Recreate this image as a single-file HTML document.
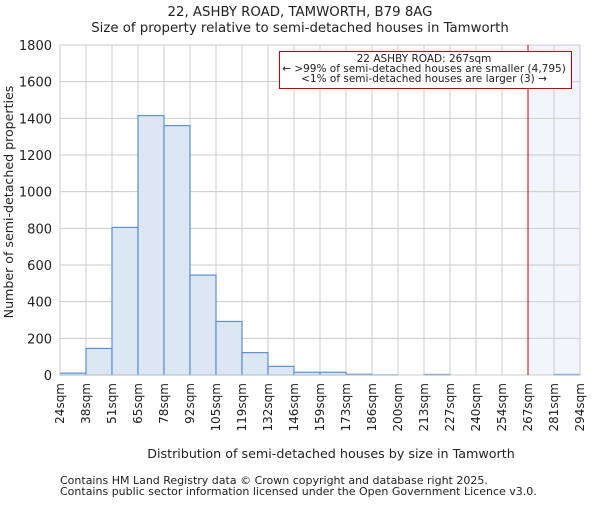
<!DOCTYPE html>
<html><head><meta charset="utf-8"><style>
body{margin:0;background:#fff}
svg text{font-family:"DejaVu Sans","Liberation Sans",sans-serif;fill:#222}
</style></head><body>
<svg width="600" height="500">
<text x="300" y="16" text-anchor="middle" font-size="13.3">22, ASHBY ROAD, TAMWORTH, B79 8AG</text>
<text x="300" y="32" text-anchor="middle" font-size="13.3">Size of property relative to semi-detached houses in Tamworth</text>
<g id="plot"></g>
<text transform="translate(13,202) rotate(-90)" text-anchor="middle" font-size="12.6">Number of semi-detached properties</text>
<text x="331" y="458" text-anchor="middle" font-size="12.7">Distribution of semi-detached houses by size in Tamworth</text>
<text x="60" y="484" font-size="11" fill="#444">Contains HM Land Registry data © Crown copyright and database right 2025.</text>
<text x="60" y="495" font-size="11" fill="#444">Contains public sector information licensed under the Open Government Licence v3.0.</text>
</svg>
<script>
const binLabels=["24sqm","38sqm","51sqm","65sqm","78sqm","92sqm","105sqm","119sqm","132sqm","146sqm","159sqm","173sqm","186sqm","200sqm","213sqm","227sqm","240sqm","254sqm","267sqm","281sqm","294sqm"];
const counts=[10,145,805,1415,1360,545,292,122,47,15,15,4,1,0,3,0,0,0,0,3];
const yTicks=[0,200,400,600,800,1000,1200,1400,1600,1800];
const markerIndex=18;
const L=60,R=580,T=45,B=375,yMax=1800;
const NS="http://www.w3.org/2000/svg";
const g=document.getElementById('plot');
const bw=(R-L)/counts.length;
const xs=i=>L+i*bw;
const ys=v=>B-(v/yMax)*(B-T);
function mk(t,a){const e=document.createElementNS(NS,t);for(const k in a)e.setAttribute(k,a[k]);g.appendChild(e);return e;}
const sh=mk('rect',{x:xs(markerIndex),y:T,width:R-xs(markerIndex),height:B-T,fill:'#f3f5fc'});


yTicks.forEach(v=>{const l=mk('line',{x1:L,x2:R,y1:ys(v),y2:ys(v),stroke:'#cccccc','stroke-width':1});


const t=mk('text',{x:L-8,y:ys(v)+5,'text-anchor':'end','font-size':'13'});t.textContent=v;

});
binLabels.forEach((s,i)=>{const l=mk('line',{x1:xs(i),x2:xs(i),y1:T,y2:B,stroke:'#cccccc','stroke-width':1});


const t=mk('text',{transform:`translate(${xs(i)+4},${B+8}) rotate(-90)`,'text-anchor':'end','font-size':'12'});t.textContent=s;

});
counts.forEach((v,i)=>{const r=mk('rect',{x:xs(i),y:ys(v),width:bw,height:B-ys(v),fill:'#dde7f4',stroke:'#5b8fd6','stroke-width':1.2});

});
const ax=mk('rect',{x:L,y:T,width:R-L,height:B-T,fill:'none',stroke:'#cccccc'});


const ml=mk('line',{x1:xs(markerIndex),x2:xs(markerIndex),y1:T,y2:B,stroke:'#cc0000','stroke-width':1});


const box=mk('rect',{x:279.5,y:51.5,width:292,height:37,fill:'#fff',stroke:'#cc0000','stroke-width':1});


["22 ASHBY ROAD: 267sqm","← >99% of semi-detached houses are smaller (4,795)","<1% of semi-detached houses are larger (3) →"].forEach((s,i)=>{
const t=mk('text',{x:424,y:62+i*10,'text-anchor':'middle','font-size':'10.5'});t.textContent=s;

});
</script>
</body></html>
